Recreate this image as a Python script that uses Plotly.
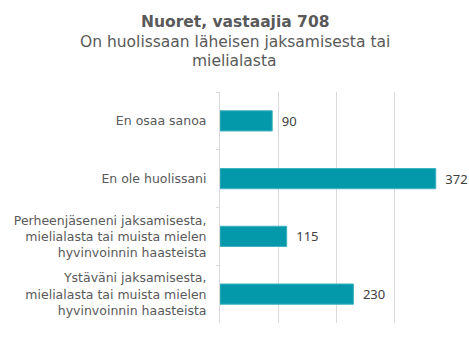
import plotly.graph_objects as go

# Survey answers (young respondents, n = 708)
categories = [
    "En osaa sanoa",
    "En ole huolissani",
    "Perheenjäseneni jaksamisesta,<br>mielialasta tai muista mielen<br>hyvinvoinnin haasteista",
    "Ystäväni jaksamisesta,<br>mielialasta tai muista mielen<br>hyvinvoinnin haasteista",
]
counts = [90, 372, 115, 230]
x_ticks = [0, 100, 200, 300, 400]
title_lines = [
    "<b>Nuoret, vastaajia 708</b>",
    "On huolissaan läheisen jaksamisesta tai",
    "mielialasta",
]

text_font = "Tahoma, 'DejaVu Sans', sans-serif"
value_font = "'Noto Sans', 'Open Sans', sans-serif"

W, H = 469, 342
L, R, T, B = 220, 17, 92, 19
plot_w = W - L - R
plot_h = H - T - B

fig = go.Figure(
    go.Bar(
        x=counts,
        y=categories,
        orientation="h",
        width=0.35,
        marker=dict(color="#0399AA", line=dict(color="#3FB3C0", width=1)),
        text=counts,
        texttemplate="\u2002%{text}",
        textposition="outside",
        textfont=dict(family=value_font, size=13, color="#404040"),
        cliponaxis=False,
    )
)

# Title block centred on the whole figure, one line per annotation
title_px_y = [22, 42, 61]
title_x = (W / 2 - L) / plot_w
for line, py in zip(title_lines, title_px_y):
    fig.add_annotation(
        text=line,
        x=title_x,
        xref="paper",
        xanchor="center",
        y=(H - B - py) / plot_h,
        yref="paper",
        yanchor="middle",
        showarrow=False,
        font=dict(family=text_font, size=15.5, color="#595959"),
    )

fig.update_layout(
    width=W,
    height=H,
    margin=dict(l=L, r=R, t=T, b=B),
    paper_bgcolor="white",
    plot_bgcolor="white",
    showlegend=False,
    xaxis=dict(
        range=[0, 400],
        tickvals=x_ticks,
        showticklabels=False,
        showgrid=True,
        gridcolor="#D9D9D9",
        gridwidth=1,
        zeroline=False,
        showline=False,
        fixedrange=True,
    ),
    yaxis=dict(
        autorange="reversed",
        showline=True,
        linecolor="#D9D9D9",
        linewidth=1,
        ticks="outside",
        tickson="boundaries",
        ticklen=3,
        tickcolor="#D9D9D9",
        ticklabelstandoff=10,
        tickfont=dict(family=text_font, size=12.5, color="#595959"),
        showgrid=False,
    ),
)

fig.write_html("out.html")
